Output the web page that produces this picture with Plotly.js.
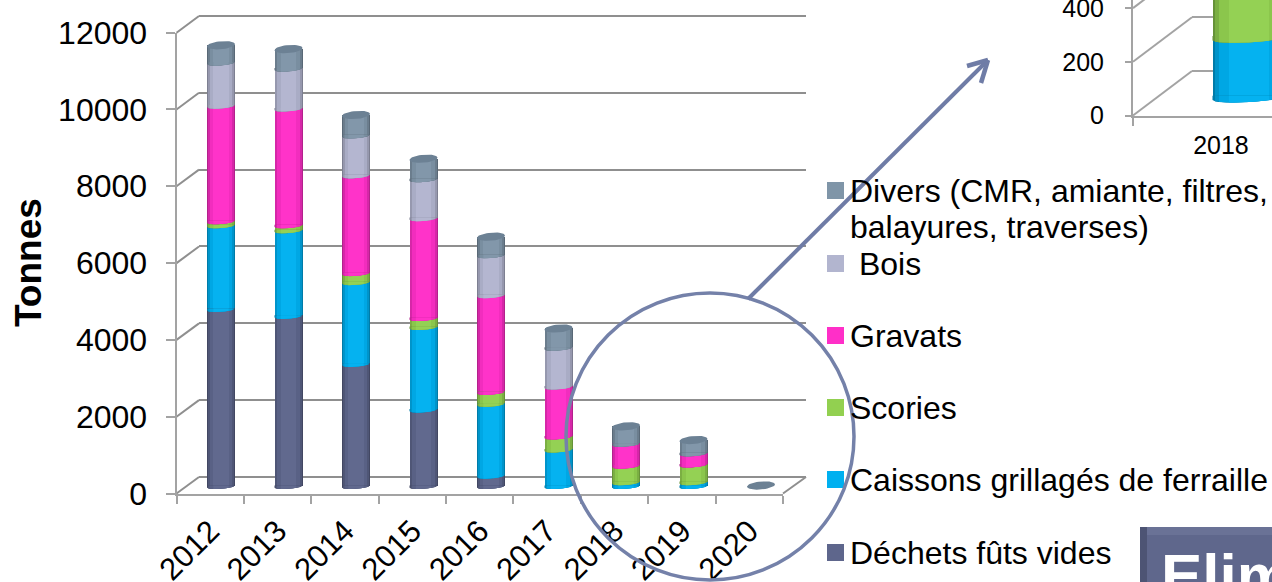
<!DOCTYPE html>
<html>
<head>
<meta charset="utf-8">
<script src="https://cdn.plot.ly/plotly-3.0.1.min.js"></script>
<style>html,body{margin:0;padding:0;background:#fff;overflow:hidden}#chart{width:1272px;height:582px}</style>
</head>
<body>
<div id="chart"></div>
<script>
// Tonnages per year, stacked from the bottom up
const years = [2012, 2013, 2014, 2015, 2016, 2017, 2018, 2019, 2020];
const dechets  = [4610, 4430, 3180, 1990, 270, 0, 0, 0, 0];
const caissons = [2180, 2230, 2130, 2150, 1870, 950, 100, 100, 0];
const scories  = [105, 130, 235, 235, 310, 340, 430, 460, 0];
const gravats  = [3010, 3040, 2545, 2600, 2520, 1300, 570, 290, 0];
const bois     = [1120, 1040, 1040, 1015, 1040, 1010, 0, 0, 0];
const divers   = [440, 495, 520, 520, 470, 490, 440, 335, 0];

// Enlarged detail of 2018
const detailCategory = ["2018"];
const detailCaissons = [222];
const detailScories = [430];

const seriesValues = [dechets, caissons, scories, gravats, bois, divers];
const seriesColors = ["#5e668c", "#00b0f0", "#92d050", "#ff2fc8", "#b2b5cf", "#7f95a8"];
const capColor = "#6c8194";

const legendEntries = [
  {color: "#7f95a8", lines: ["Divers (CMR, amiante, filtres,", "balayures, traverses)"], top: 182},
  {color: "#b2b5cf", lines: ["\u00a0Bois"], top: 255},
  {color: "#ff2fc8", lines: ["Gravats"], top: 327},
  {color: "#92d050", lines: ["Scories"], top: 399},
  {color: "#00b0f0", lines: ["Caissons grillag\u00e9s de ferraille"], top: 471},
  {color: "#5e668c", lines: ["D\u00e9chets f\u00fbts vides"], top: 544}
];

const W = 1272, H = 582;
const FONT = "Liberation Sans, Arial, sans-serif";
const AXIS_GREY = "#a3a3a3", GRID_GREY = "#8f8f8f", CALLOUT = "#7481a9";
const px = x => x / W;
const py = y => 1 - y / H;
const domX = (a, b) => [a / W, b / W];
const domY = (top, bottom) => [(H - bottom) / H, (H - top) / H];

function shade(hex, f) {
  const n = parseInt(hex.slice(1), 16);
  const ch = [n >> 16, (n >> 8) & 255, n & 255].map(c =>
    Math.round(f < 0 ? c * (1 + f) : c + (255 - c) * f));
  return "rgb(" + ch.join(",") + ")";
}

// Nested strips give the cylinders their rounded shading
const strips = [[1.0, -0.30], [0.93, -0.16], [0.82, -0.05], [0.55, 0.02]];
const traces = [];

// Adds shaded cylinder segments and their curved lower edges to a subplot
function addCylinders(ax, cats, xPos, series, colors, opts) {
  const {barWidth, sag, tilt, cap} = opts;   // sag, tilt and cap are in data units
  const R = barWidth / 2;
  let base = cats.map(() => 0);
  series.forEach((vals, s) => {
    strips.forEach(([frac, f]) => {
      traces.push({
        type: "bar", x: cats, y: vals, base: base.slice(), width: barWidth * frac,
        marker: {color: shade(colors[s], f), line: {width: 0}},
        xaxis: ax[0], yaxis: ax[1], showlegend: false, hoverinfo: "skip"
      });
      const lx = [], ly = [];
      vals.forEach((v, i) => {
        if (v <= 0) return;
        for (let k = 0; k <= 24; k++) {
          const u = -frac + 2 * frac * k / 24;
          lx.push(xPos[i] + R * u);
          ly.push(base[i] - sag * Math.sqrt(Math.max(0, 1 - u * u)) - tilt * (1 - u));
        }
        lx.push(xPos[i] + R * frac, xPos[i] - R * frac, null);
        ly.push(base[i] + 1, base[i] + 1, null);
      });
      traces.push({
        type: "scatter", mode: "lines", x: lx, y: ly, fill: "toself",
        fillcolor: shade(colors[s], f), line: {width: 0},
        xaxis: ax[0], yaxis: ax[1], showlegend: false, hoverinfo: "skip"
      });
    });
    base = base.map((b, i) => b + vals[i]);
  });
  if (cap > 0) {
    const cx = [], cy = [];
    base.forEach((t, i) => {
      for (let k = 0; k <= 40; k++) {
        const a = 2 * Math.PI * k / 40;
        cx.push(xPos[i] + R * Math.cos(a));
        cy.push(t + tilt * Math.cos(a) + cap * Math.sin(a));
      }
      cx.push(null); cy.push(null);
    });
    traces.push({
      type: "scatter", mode: "lines", x: cx, y: cy, fill: "toself",
      fillcolor: capColor, line: {width: 0},
      xaxis: ax[0], yaxis: ax[1], showlegend: false, hoverinfo: "skip"
    });
  }
}

// Main chart: scale of 38.4 px per 1000 t, bars 67.5 px apart
const MAIN_SCALE = 0.0384, STEP = 67.5;
addCylinders(["x3", "y3"], years, years, seriesValues, seriesColors, {
  barWidth: 28 / STEP, sag: 2.2 / MAIN_SCALE, tilt: 1.1 / MAIN_SCALE, cap: 4 / MAIN_SCALE
});

// Detail chart: 54 px per 200 t
const DETAIL_SCALE = 0.2685;
addCylinders(["x6", "y6"], [2018], [2018], [detailCaissons, detailScories],
  ["#00b0f0", "#92d050"], {barWidth: 73 / 176, sag: 4 / DETAIL_SCALE, tilt: 2 / DETAIL_SCALE, cap: 0});

// Invisible anchors keep the axis subplots alive
const anchor = (xa, ya, x, y) => ({type: "scatter", mode: "markers", x: x, y: y,
  marker: {opacity: 0}, xaxis: xa, yaxis: ya, showlegend: false, hoverinfo: "skip"});
traces.unshift(anchor("x", "y", [0], [0]), anchor("x2", "y2", years.map(String), years.map(() => 0)),
  anchor("x4", "y4", [0], [0]), anchor("x5", "y5", detailCategory, [0]));

const hidden = {showgrid: false, zeroline: false, showticklabels: false, ticks: "", showline: false};
const frontX = (fs, standoff, angle) => ({
  type: "category", tickson: "boundaries", ticks: "outside", ticklen: 8, tickwidth: 2, tickcolor: AXIS_GREY,
  showline: true, linecolor: AXIS_GREY, linewidth: 2, showgrid: false, zeroline: false, ticklabeloverflow: "allow",
  tickfont: {family: FONT, size: fs, color: "#000"}, ticklabelstandoff: standoff, tickangle: angle
});
const frontY = (fs, standoff, len) => ({
  ticks: "outside", ticklen: len, tickwidth: 2, tickcolor: AXIS_GREY, tickformat: "d", ticklabeloverflow: "allow",
  showline: true, linecolor: AXIS_GREY, linewidth: 2, showgrid: false, zeroline: false,
  tickfont: {family: FONT, size: fs, color: "#000"}, ticklabelstandoff: standoff
});

// The wall domains run past the outer gridlines so those lines are kept
const WALL_SCALE = 0.03842;
const layout = {
  width: W, height: H, margin: {l: 0, r: 0, t: 0, b: 0}, autosize: false,
  paper_bgcolor: "#fff", plot_bgcolor: "rgba(0,0,0,0)", barmode: "overlay", bargap: 0, showlegend: false,
  // back wall
  xaxis: Object.assign({}, hidden, {domain: domX(199, 806), range: [0, 1], anchor: "y"}),
  yaxis: Object.assign({}, hidden, {domain: domY(2, 490), range: [(477 - 490) / WALL_SCALE, (477 - 2) / WALL_SCALE],
    anchor: "x", showgrid: true, gridcolor: GRID_GREY, gridwidth: 2, tick0: 0, dtick: 2000}),
  // front axes
  xaxis2: Object.assign(frontX(31, 5, -45), {domain: domX(176.5, 783), range: [-0.5, 8.5], anchor: "y2",
    categoryorder: "array", categoryarray: years.map(String)}),
  yaxis2: Object.assign(frontY(32, 12, 9), {domain: domY(32.5, 493.5), range: [0, 12000], dtick: 2000, anchor: "x2"}),
  // cylinder plane
  xaxis3: Object.assign({}, hidden, {domain: domX(177, 783),
    range: [2012 + (177 - 221) / STEP, 2012 + (783 - 221) / STEP], anchor: "y3"}),
  yaxis3: Object.assign({}, hidden, {domain: domY(0, 494),
    range: [(485.5 - 494) / MAIN_SCALE, 485.5 / MAIN_SCALE], anchor: "x3"}),
  // detail: back wall, front axes, cylinder
  xaxis4: Object.assign({}, hidden, {domain: domX(1192, 1272), range: [0, 1], anchor: "y4"}),
  yaxis4: Object.assign({}, hidden, {domain: domY(0, 90), range: [(71 - 90) / DETAIL_SCALE, 71 / DETAIL_SCALE],
    anchor: "x4", showgrid: true, gridcolor: AXIS_GREY, gridwidth: 2, tick0: 0, dtick: 200}),
  xaxis5: Object.assign(frontX(25, 6, 0), {domain: domX(1133, 1272), range: [-0.5, 0.29], anchor: "y5"}),
  yaxis5: Object.assign(frontY(25, 16, 6), {domain: domY(0, 115.5), range: [0, 115.5 / DETAIL_SCALE],
    dtick: 200, anchor: "x5"}),
  xaxis6: Object.assign({}, hidden, {domain: domX(1133, 1272),
    range: [2018 + (1133 - 1249) / 176, 2018 + (1272 - 1249) / 176], anchor: "y6"}),
  yaxis6: Object.assign({}, hidden, {domain: domY(0, 120), range: [(96 - 120) / DETAIL_SCALE, 96 / DETAIL_SCALE], anchor: "x6"}),
  shapes: [],
  annotations: [
    {xref: "paper", yref: "paper", x: px(29), y: py(263), xanchor: "center", yanchor: "middle",
     text: "<b>Tonnes</b>", showarrow: false, textangle: -90, font: {family: FONT, size: 37, color: "#000"}}
  ]
};

const seg = (x0, y0, x1, y1, color, width, layer) => ({type: "line", xref: "paper", yref: "paper",
  x0: px(x0), y0: py(y0), x1: px(x1), y1: py(y1), line: {color: color, width: width}, layer: layer});

// Wall-to-floor connectors of the perspective frame
for (let v = 0; v <= 12000; v += 2000) {
  const f = 493.5 - v * MAIN_SCALE, b = 477 - v * WALL_SCALE;
  layout.shapes.push(seg(176.5, f, 199, b, GRID_GREY, 2, "below"));
}
layout.shapes.push(seg(783, 493.5, 806, 477, GRID_GREY, 2, "below"));
for (let v = 0; v <= 400; v += 200) {
  const f = 115.5 - v * DETAIL_SCALE;
  layout.shapes.push(seg(1133, f, 1192, f - 44.5, AXIS_GREY, 2, "below"));
}

// Legend swatches and labels
legendEntries.forEach(e => {
  layout.shapes.push({type: "rect", xref: "paper", yref: "paper", x0: px(827), x1: px(844),
    y0: py(e.top), y1: py(e.top + 17), fillcolor: e.color, line: {width: 0}, layer: "above"});
  e.lines.forEach((t, n) => layout.annotations.push({
    xref: "paper", yref: "paper", xanchor: "left", yanchor: "middle", x: px(848), y: py(e.top + 9 + n * 36),
    text: t, showarrow: false, font: {family: FONT, size: 32, color: "#000"}
  }));
});

// Title block cut by the edge of the slide
const rect = (x0, y0, x1, y1, color) => ({type: "rect", xref: "paper", yref: "paper",
  x0: px(x0), x1: px(x1), y0: py(y0), y1: py(y1), fillcolor: color, line: {width: 0}, layer: "above"});
layout.shapes.push(rect(1140, 527, 1272, 582, "#4d5474"), rect(1147, 527, 1272, 535, "#6a7296"),
  rect(1147, 535, 1272, 582, "#5f678c"));
layout.annotations.push({xref: "paper", yref: "paper", xanchor: "left", yanchor: "top",
  x: px(1159), y: py(539), text: "<b>Elimination</b>", showarrow: false,
  font: {family: FONT, size: 62, color: "#fff"}});

// Callout: circle around the last years and the arrow to the detail
layout.shapes.push({type: "circle", xref: "paper", yref: "paper", x0: px(566), x1: px(854),
  y0: py(293), y1: py(580), line: {color: CALLOUT, width: 3.5}, layer: "above"});
layout.shapes.push(seg(748, 299, 988, 60, "#6f7ca6", 4, "above"),
  seg(967, 66, 988, 60, "#6f7ca6", 4.5, "above"), seg(981, 83, 988, 60, "#6f7ca6", 4.5, "above"));

Plotly.newPlot("chart", traces, layout, {staticPlot: true, displayModeBar: false});
</script>
</body>
</html>
